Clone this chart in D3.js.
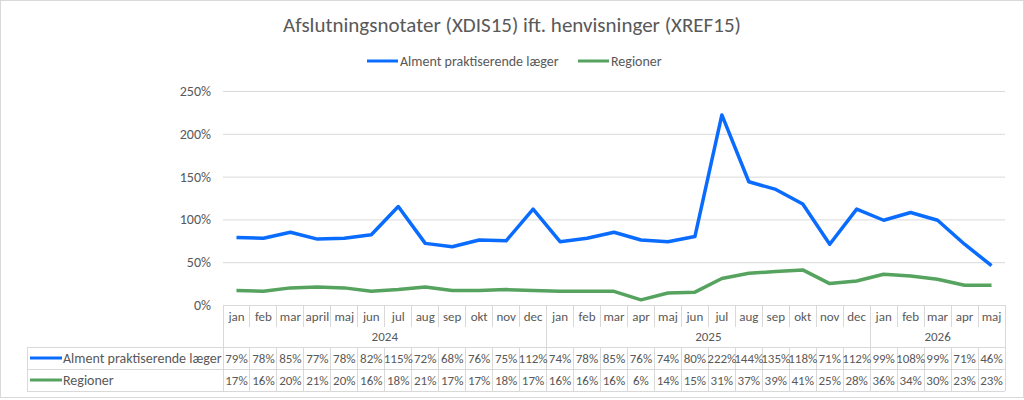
<!DOCTYPE html>
<html lang="en">
<head>
  <meta charset="utf-8">
  <title>Afslutningsnotater</title>
  <style>
    body { margin: 0; background: #fff; }
    svg text { font-family: Carlito, "Liberation Sans Narrow", "DejaVu Sans Condensed", Lato, sans-serif; fill: #595959; }
  </style>
</head>
<body>
  <script src="https://cdn.jsdelivr.net/npm/d3@7"></script>
  <script>
    var months = ["jan", "feb", "mar", "april", "maj", "jun", "jul", "aug", "sep", "okt", "nov", "dec",
      "jan", "feb", "mar", "apr", "maj", "jun", "jul", "aug", "sep", "okt", "nov", "dec",
      "jan", "feb", "mar", "apr", "maj"];
    var years = ["2024", "2025", "2026"];
    var yearCounts = [12, 12, 5];
    var seriesNames = ["Alment praktiserende læger", "Regioner"];
    var almen = [79, 78, 85, 77, 78, 82, 115, 72, 68, 76, 75, 112, 74, 78, 85, 76, 74, 80, 222, 144, 135, 118, 71, 112, 99, 108, 99, 71, 46];
    var regioner = [17, 16, 20, 21, 20, 16, 18, 21, 17, 17, 18, 17, 16, 16, 16, 6, 14, 15, 31, 37, 39, 41, 25, 28, 36, 34, 30, 23, 23];
    var yTicks = [0, 0.5, 1, 1.5, 2, 2.5];
    var colors = ["#0a6cff", "#55a35e"];

    var width = 1024, height = 400;
    var plotLeft = 223, plotRight = 1005, plotTop = 91, plotBase = 305;
    var gridColor = "#d9d9d9";

    var svg = d3.select("body").append("svg")
      .attr("width", width)
      .attr("height", height);

    // outer border
    svg.append("rect")
      .attr("x", 0.5).attr("y", 0.5)
      .attr("width", width - 1).attr("height", height - 3)
      .attr("fill", "none").attr("stroke", gridColor);

    var idx = d3.range(months.length);
    var xScale = d3.scaleBand().domain(idx).range([plotLeft, plotRight]).padding(0);
    var yScale = d3.scaleLinear().domain([0, 2.5]).range([plotBase, plotTop]);

    // title
    svg.append("text")
      .attr("x", 512).attr("y", 32)
      .attr("text-anchor", "middle")
      .attr("font-size", 21)
      .text("Afslutningsnotater (XDIS15) ift. henvisninger (XREF15)");

    // legend
    var legendX = [367, 578];
    seriesNames.forEach(function(name, i) {
      svg.append("line")
        .attr("x1", legendX[i]).attr("x2", legendX[i] + 31)
        .attr("y1", 61).attr("y2", 61)
        .attr("stroke", colors[i]).attr("stroke-width", 3);
      svg.append("text")
        .attr("x", legendX[i] + 33).attr("y", 66)
        .attr("font-size", 14)
        .text(name);
    });

    // gridlines
    var grid = svg.append("g")
      .attr("transform", "translate(" + plotLeft + ",0)")
      .call(d3.axisLeft(yScale).tickValues(yTicks.slice(1)).tickSize(-(plotRight - plotLeft)).tickFormat(""));
    grid.select(".domain").remove();
    grid.selectAll("line").attr("stroke", gridColor);

    // y axis labels
    var yAxis = svg.append("g")
      .attr("transform", "translate(" + 211 + ",0)")
      .call(d3.axisLeft(yScale).tickValues(yTicks).tickSize(0).tickPadding(0).tickFormat(d3.format(".0%")));
    yAxis.select(".domain").remove();
    yAxis.selectAll("text").attr("font-size", 14).attr("fill", "#595959").attr("font-family", null);

    // lines
    var lineGen = d3.line()
      .x(function(d, i) { return xScale(i) + xScale.bandwidth() / 2; })
      .y(function(d) { return yScale(d / 100); });
    [almen, regioner].forEach(function(s, i) {
      svg.append("path")
        .datum(s)
        .attr("d", lineGen)
        .attr("fill", "none")
        .attr("stroke", colors[i])
        .attr("stroke-width", 3.5)
        .attr("stroke-linejoin", "round");
    });

    // data table
    var monthBottom = 327, yearBottom = 347, row1Bottom = 369, row2Bottom = 391;
    var tableLeft = 27;
    var t = svg.append("g").attr("stroke", gridColor).attr("shape-rendering", "crispEdges");
    t.append("line").attr("x1", plotLeft).attr("x2", plotRight).attr("y1", plotBase).attr("y2", plotBase);
    [yearBottom, row1Bottom, row2Bottom].forEach(function(y) {
      t.append("line").attr("x1", tableLeft).attr("x2", plotRight).attr("y1", y).attr("y2", y);
    });
    d3.range(months.length + 1).forEach(function(i) {
      var x = i < months.length ? xScale(i) : plotRight;
      t.append("line").attr("x1", x).attr("x2", x).attr("y1", plotBase).attr("y2", monthBottom);
      t.append("line").attr("x1", x).attr("x2", x).attr("y1", yearBottom).attr("y2", row2Bottom);
    });
    var acc = 0;
    [0].concat(yearCounts).forEach(function(c) {
      acc += c;
      var x = acc < months.length ? xScale(acc) : plotRight;
      t.append("line").attr("x1", x).attr("x2", x).attr("y1", monthBottom).attr("y2", yearBottom);
    });
    t.append("line").attr("x1", tableLeft).attr("x2", tableLeft).attr("y1", yearBottom).attr("y2", row2Bottom);

    // month labels
    svg.selectAll(".month").data(months).enter().append("text")
      .attr("class", "month")
      .attr("x", function(d, i) { return xScale(i) + xScale.bandwidth() / 2; })
      .attr("y", 320.5)
      .attr("text-anchor", "middle")
      .attr("font-size", 13)
      .text(function(d) { return d; });

    // year labels
    var start = 0;
    years.forEach(function(y, i) {
      var x0 = xScale(start);
      var x1 = start + yearCounts[i] < months.length ? xScale(start + yearCounts[i]) : plotRight;
      svg.append("text")
        .attr("x", (x0 + x1) / 2).attr("y", 341)
        .attr("text-anchor", "middle")
        .attr("font-size", 13)
        .text(y);
      start += yearCounts[i];
    });

    // data rows
    var rowY = [362.5, 384.5];
    [almen, regioner].forEach(function(s, r) {
      svg.append("line")
        .attr("x1", 30).attr("x2", 62)
        .attr("y1", rowY[r] - 4.5).attr("y2", rowY[r] - 4.5)
        .attr("stroke", colors[r]).attr("stroke-width", 3);
      svg.append("text")
        .attr("x", 63).attr("y", rowY[r] + 0.5)
        .attr("font-size", 14)
        .text(seriesNames[r]);
      svg.selectAll(".v" + r).data(s).enter().append("text")
        .attr("class", "v" + r)
        .attr("x", function(d, i) { return xScale(i) + xScale.bandwidth() / 2; })
        .attr("y", rowY[r])
        .attr("text-anchor", "middle")
        .attr("font-size", 13)
        .text(function(d) { return d + "%"; });
    });
  </script>
</body>
</html>
